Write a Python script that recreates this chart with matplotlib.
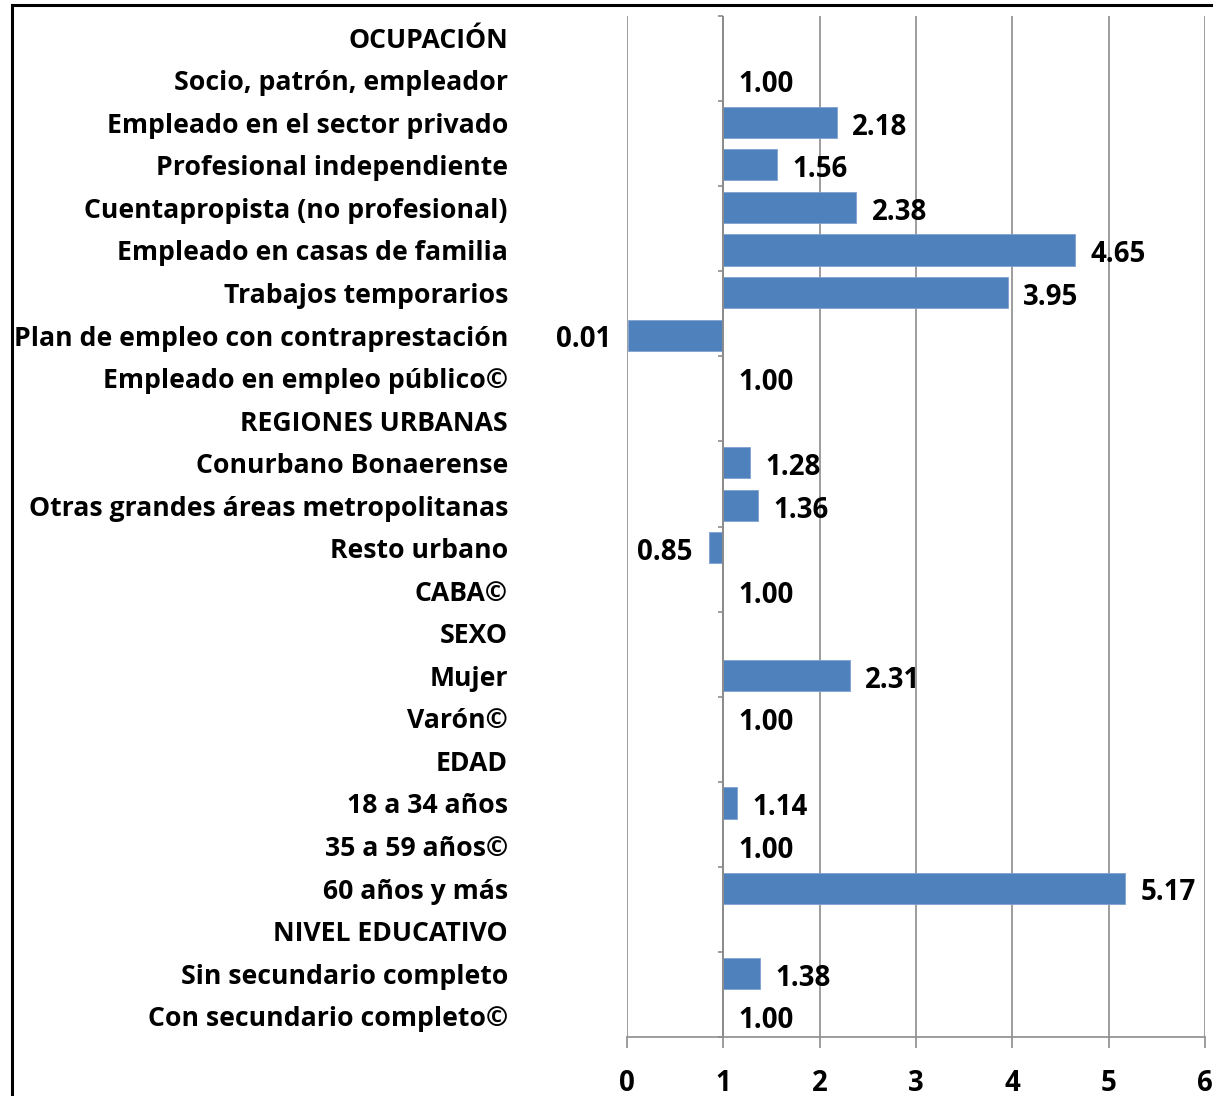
import numpy as np
import matplotlib
matplotlib.use("Agg")
import matplotlib.pyplot as plt
from matplotlib.patches import Rectangle

# datos (de arriba hacia abajo)
categorias = [
    "OCUPACIÓN",
    "Socio, patrón, empleador",
    "Empleado en el sector privado",
    "Profesional independiente",
    "Cuentapropista (no profesional)",
    "Empleado en casas de familia",
    "Trabajos temporarios",
    "Plan de empleo con contraprestación",
    "Empleado en empleo público©",
    "REGIONES URBANAS",
    "Conurbano Bonaerense",
    "Otras grandes áreas metropolitanas",
    "Resto urbano",
    "CABA©",
    "SEXO",
    "Mujer",
    "Varón©",
    "EDAD",
    "18 a 34 años",
    "35 a 59 años©",
    "60 años y más",
    "NIVEL EDUCATIVO",
    "Sin secundario completo",
    "Con secundario completo©",
]
valores = [np.nan, 1.00, 2.18, 1.56, 2.38, 4.65, 3.95, 0.01, 1.00,
           np.nan, 1.28, 1.36, 0.85, 1.00,
           np.nan, 2.31, 1.00,
           np.nan, 1.14, 1.00, 5.17,
           np.nan, 1.38, 1.00]
xticks = [0, 1, 2, 3, 4, 5, 6]

W, H = 1213, 1096
plt.rcParams['font.family'] = ['Open Sans', 'DejaVu Sans']
fig = plt.figure(figsize=(W / 100, H / 100), dpi=100)
renderer = fig.canvas.get_renderer()


def fit_size(txt, width_px, size0=16):
    # tamano de letra para que el texto ocupe width_px
    t = fig.text(0, 0, txt, fontsize=size0, fontweight="bold")
    w = t.get_window_extent(renderer).width
    t.remove()
    return size0 * width_px / w


fs_cat = fit_size("Plan de empleo con contraprestación", 493)
fs_num = fit_size("0.01", 55)

ax = fig.add_axes([627 / W, 1 - 1037 / H, (1205 - 627) / W, (1037 - 16) / H])

y = np.arange(len(categorias))
v = np.array(valores)
base = 1.0
ok = ~np.isnan(v)
ax.barh(y[ok], v[ok] - base, left=base, height=0.73,
        color="#4F81BD", edgecolor="#7FA2D0", linewidth=0.6, zorder=3)

ax.set_xlim(0, 6)
ax.set_ylim(len(categorias) - 0.5, -0.5)

# rejilla vertical
ax.set_xticks(xticks)
ax.set_xticklabels([str(t) for t in xticks], fontsize=fs_num, fontweight="bold")
ax.grid(axis="x", color="#8C8C8C", linewidth=1.2, zorder=0)
ax.tick_params(axis="x", direction="out", length=8, width=1.2, color="#8C8C8C", pad=15)
ax.set_yticks([])
for s in ["left", "right", "top"]:
    ax.spines[s].set_visible(False)
ax.spines["bottom"].set_color("#8C8C8C")
ax.spines["bottom"].set_linewidth(1.2)

# eje vertical en x = 1
ax.axvline(base, color="#8C8C8C", linewidth=1.4, zorder=4)
ax.hlines(np.arange(0, len(categorias) + 1, 2) - 0.5, base - 0.06, base,
          color="#8C8C8C", linewidth=1.2, zorder=4, clip_on=False)

# etiquetas de categoria
tr = ax.get_yaxis_transform()
for i, c in enumerate(categorias):
    ax.annotate(c, (-0.206, i), xycoords=tr, xytext=(0, -2.5), textcoords="offset points",
                ha="right", va="center", fontsize=fs_cat, fontweight="bold",
                annotation_clip=False)

# etiquetas de valores
for i, val in enumerate(valores):
    if np.isnan(val):
        continue
    if val >= base:
        ax.annotate(f"{val:.2f}", (val, i), xytext=(11, -3.5), textcoords="offset points",
                    ha="left", va="center", fontsize=fs_num, fontweight="bold", zorder=5)
    else:
        ax.annotate(f"{val:.2f}", (val, i), xytext=(-12, -3.5), textcoords="offset points",
                    ha="right", va="center", fontsize=fs_num, fontweight="bold", zorder=5)

# borde del grafico
fig.patches.append(Rectangle((12 / W, -0.1), 1.2, 1 - 5 / H + 0.1, transform=fig.transFigure,
                             fill=False, edgecolor="black", linewidth=2.2))

fig.savefig("out.png", dpi=100)
